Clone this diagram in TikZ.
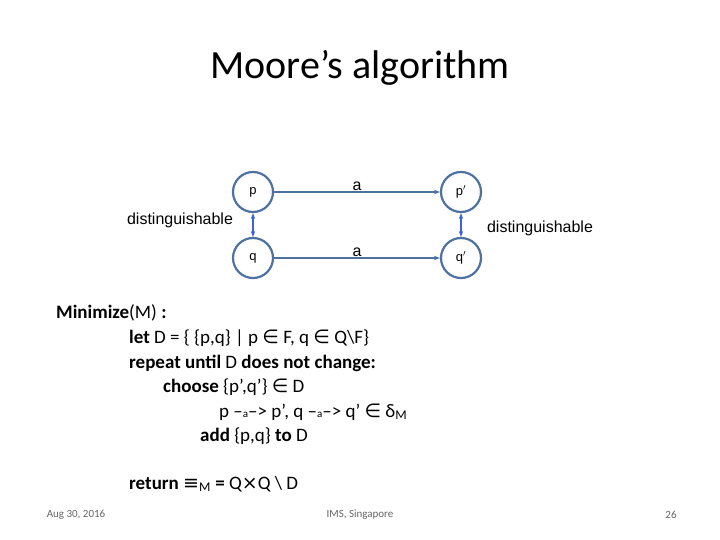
\documentclass[tikz,border=0pt]{standalone}
\usepackage{fontspec}
\setmainfont{Carlito}
\newfontfamily\arial{Liberation Sans}
\newfontfamily\dv{DejaVu Sans}
\usetikzlibrary{arrows.meta}
\begin{document}
\begin{tikzpicture}[x=1pt,y=-1pt,
  st/.style={circle,draw=stateblue,line width=2.2pt,minimum size=40pt,inner sep=0pt,font=\arial\fontsize{13}{15}\selectfont},
  tr/.style={draw=stateblue,line width=2pt,-{Stealth[length=6pt]}},
  dist/.style={draw=distblue,line width=2.5pt,{Stealth[length=6pt]}-{Stealth[length=6pt]}},
  lbl/.style={font=\arial\fontsize{16}{18}\selectfont},
  code/.style={anchor=base west,inner sep=0pt,font=\fontsize{19}{22}\selectfont},
  foot/.style={inner sep=0pt,font=\fontsize{11}{13}\selectfont,text=gray!80!black}]
\definecolor{stateblue}{RGB}{79,113,160}
\definecolor{distblue}{RGB}{60,100,210}
\path[use as bounding box,fill=white] (0,0) rectangle (720,540);
\node[font=\fontsize{40}{46}\selectfont] (title) at (360,68) {Moore’s algorithm};
\node[st] (p) at (253,192) {p};
\node[st] (pp) at (461,192) {p$'$};
\node[st] (q) at (253,258) {q};
\node[st] (qq) at (461,258) {q$'$};
\draw[tr] (p) -- node[lbl,above=-3pt] (a1) {a} (pp);
\draw[tr] (q) -- node[lbl,above=-3pt] (a2) {a} (qq);
\draw[dist] (p) -- (q);
\draw[dist] (pp) -- (qq);
\node[lbl] (d1) at (180,220) {distinguishable};
\node[lbl] (d2) at (540,228) {distinguishable};
\node[code] (l0) at (56,318) {\textbf{Minimize}(M)\textbf{ :}};
\node[code] (l1) at (129,343) {\textbf{let} D = \{ \{p,q\} | p {\dv∈} F, q {\dv∈} Q\textbackslash F\}};
\node[code] (l2) at (129,368) {\textbf{repeat until} D \textbf{does not change:}};
\node[code] (l3) at (163,392) {\textbf{choose} \{p’,q’\} {\dv∈} D};
\node[code] (l4) at (219,417) {p –{\fontsize{11}{12}\selectfont a}–> p’, q –{\fontsize{11}{12}\selectfont a}–> q’ {\dv∈} δ\textsubscript{M}};
\node[code] (l5) at (200,441) {\textbf{add} \{p,q\} \textbf{to} D};
\node[code] (l6) at (129,489) {\textbf{return} {\dv≡}\textsubscript{M} \textbf{=} Q{\dv×}Q \textbackslash{} D};
\node[foot] (f1) at (76,515) {Aug 30, 2016};
\node[foot] (f2) at (360,515) {IMS, Singapore};
\node[foot] (f3) at (671,515) {26};
\end{tikzpicture}
\end{document}
